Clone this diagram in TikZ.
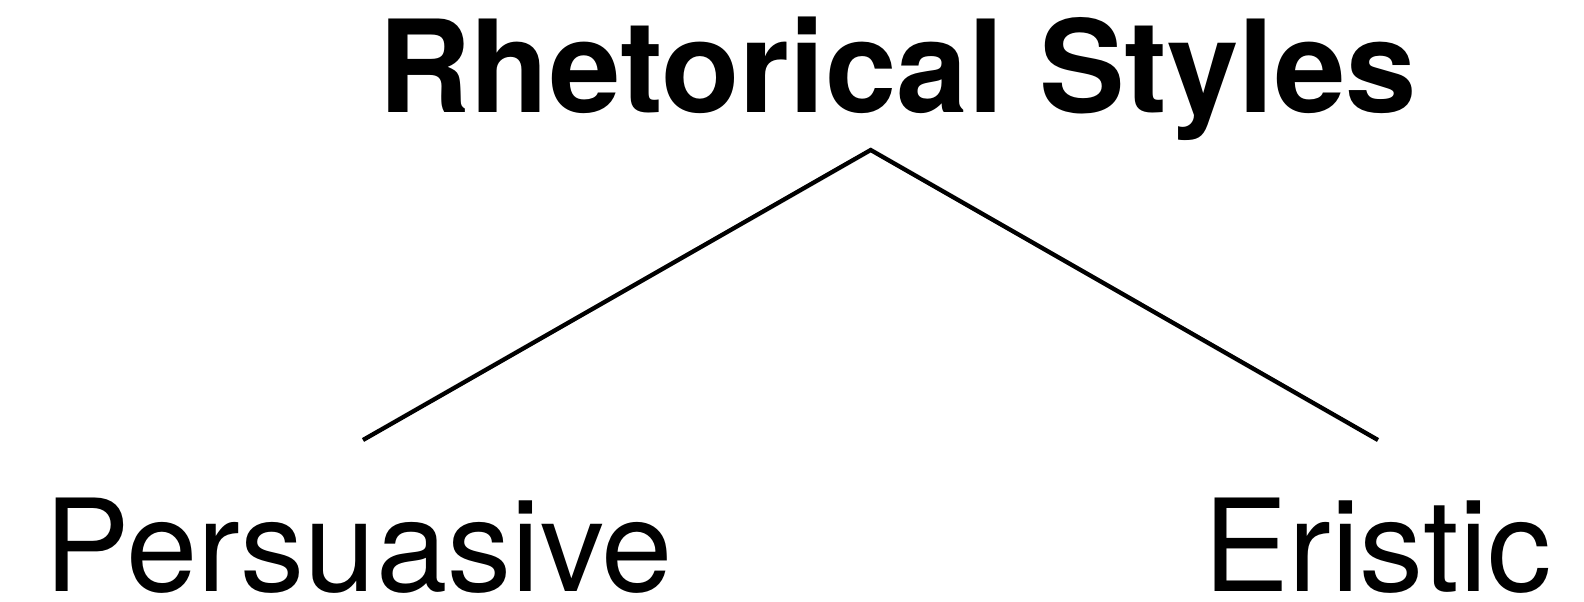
\documentclass[tikz,border=0pt]{standalone}
\usepackage{fontspec}
\setmainfont{TeX Gyre Heros}
\begin{document}
\begin{tikzpicture}[x=1pt,y=-1pt,
  lbl/.style={inner sep=0pt, anchor=base west, font=\fontsize{128.3}{128}\selectfont},
  ttl/.style={lbl, font=\fontsize{128.3}{128}\selectfont\bfseries},
  conn/.style={line width=4.3pt, line cap=butt}]
\useasboundingbox (0,0) rectangle (1584,602);
\node[ttl] (title) at (378,112.7) {Rhetorical Styles};
\node[lbl] (pers) at (44,591.7) {Persuasive};
\node[lbl] (eris) at (1203,591.7) {Eristic};
\coordinate (apex) at (870.7,150);
\coordinate (lend) at (363,440);
\coordinate (rend) at (1378,440);
\draw[conn] (lend) -- (apex) -- (rend);
\end{tikzpicture}
\end{document}
